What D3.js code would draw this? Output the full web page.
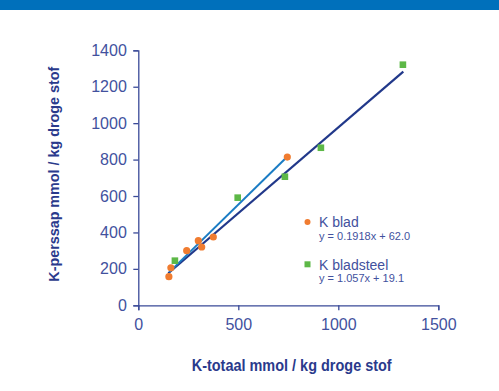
<!DOCTYPE html>
<html><head><meta charset="utf-8">
<script src="https://cdn.jsdelivr.net/npm/d3@7"></script>
<style>body{margin:0;background:#fff}svg{display:block}</style>
</head><body>
<svg id="c" width="499" height="391"></svg>
<script>
// Data
const bladX = [153, 163, 242, 300, 317, 375, 745];
const bladY = [157, 206, 300, 355, 320, 375, 814];
const steelX = [183, 497, 733, 913, 1323];
const steelY = [245, 591, 706, 865, 1321];
const fitBladX = [155, 733];
const fitBladY = [182, 803];
const fitSteelX = [150, 1325];
const fitSteelY = [176, 1283];
const xTicks = [0, 500, 1000, 1500];
const yTicks = [0, 200, 400, 600, 800, 1000, 1200, 1400];
const seriesNames = ["K blad", "K bladsteel"];
const seriesEqs = ["y = 0.1918x + 62.0", "y = 1.057x + 19.1"];

const C = {orange:"#F07C30", green:"#5DB847", light:"#1A7CC4", navy:"#21388A", axis:"#3A4A98", text:"#42519E", title:"#2A3A8C", header:"#0070BB"};
const svg = d3.select("#c");
svg.append("rect").attr("x",0).attr("y",0).attr("width",499).attr("height",10).attr("fill",C.header);

const x = d3.scaleLinear().domain([0,1500]).range([138.3,438.3]);
const y = d3.scaleLinear().domain([0,1400]).range([305.3,50.3]);

const font = "'Liberation Sans', Arial, sans-serif";

const yAx = svg.append("g").attr("transform","translate(138.3,0)")
  .call(d3.axisLeft(y).tickValues(yTicks).tickSize(5).tickPadding(6.5).tickFormat(d3.format("d")));
const xAx = svg.append("g").attr("transform","translate(0,305.3)")
  .call(d3.axisBottom(x).tickValues(xTicks).tickSize(5).tickPadding(8).tickFormat(d3.format("d")));
[yAx,xAx].forEach(g=>{
  g.selectAll("path,line").attr("stroke",C.axis).attr("stroke-width",1.3);
  g.selectAll("text").attr("fill",C.text).style("font-family",font).style("font-size","16px");
});

// fit lines
const line = d3.line().x(d=>x(d[0])).y(d=>y(d[1]));
svg.append("path").datum(fitSteelX.map((v,i)=>[v,fitSteelY[i]])).attr("d",line)
  .attr("stroke",C.navy).attr("stroke-width",2.2).attr("fill","none");
svg.append("path").datum(fitBladX.map((v,i)=>[v,fitBladY[i]])).attr("d",line)
  .attr("stroke",C.light).attr("stroke-width",2).attr("fill","none");

// points
svg.selectAll("circle.b").data(bladX.map((v,i)=>[v,bladY[i]])).enter().append("circle")
  .attr("cx",d=>x(d[0])).attr("cy",d=>y(d[1])).attr("r",3.6).attr("fill",C.orange);
svg.selectAll("rect.s").data(steelX.map((v,i)=>[v,steelY[i]])).enter().append("rect")
  .attr("x",d=>x(d[0])-3.3).attr("y",d=>y(d[1])-3.3).attr("width",6.6).attr("height",6.6).attr("fill",C.green);

// legend
const lg = svg.append("g");
const rows = [222, 264.3];
lg.append("circle").attr("cx",307.5).attr("cy",rows[0]).attr("r",3).attr("fill",C.orange);
lg.append("rect").attr("x",304.5).attr("y",rows[1]-3).attr("width",6).attr("height",6).attr("fill",C.green);
seriesNames.forEach((n,i)=>{
  lg.append("text").attr("x",319).attr("y",rows[i]+5.3).text(n)
    .attr("fill",C.text).style("font-family",font).style("font-size","14px");
  lg.append("text").attr("x",319).attr("y",rows[i]+18).text(seriesEqs[i])
    .attr("fill",C.text).style("font-family",font).style("font-size","11px");
});

// axis titles
svg.append("text").attr("x",191.7).attr("y",371).text("K-totaal mmol / kg droge stof")
  .attr("textLength",200).attr("lengthAdjust","spacingAndGlyphs")
  .attr("fill",C.title).style("font-family",font).style("font-size","16px").style("font-weight","bold");
svg.append("text").attr("transform","translate(59,281.7) rotate(-90)").text("K-perssap mmol / kg droge stof")
  .attr("textLength",215).attr("lengthAdjust","spacingAndGlyphs")
  .attr("fill",C.title).style("font-family",font).style("font-size","15.5px").style("font-weight","bold");
</script>
</body></html>
